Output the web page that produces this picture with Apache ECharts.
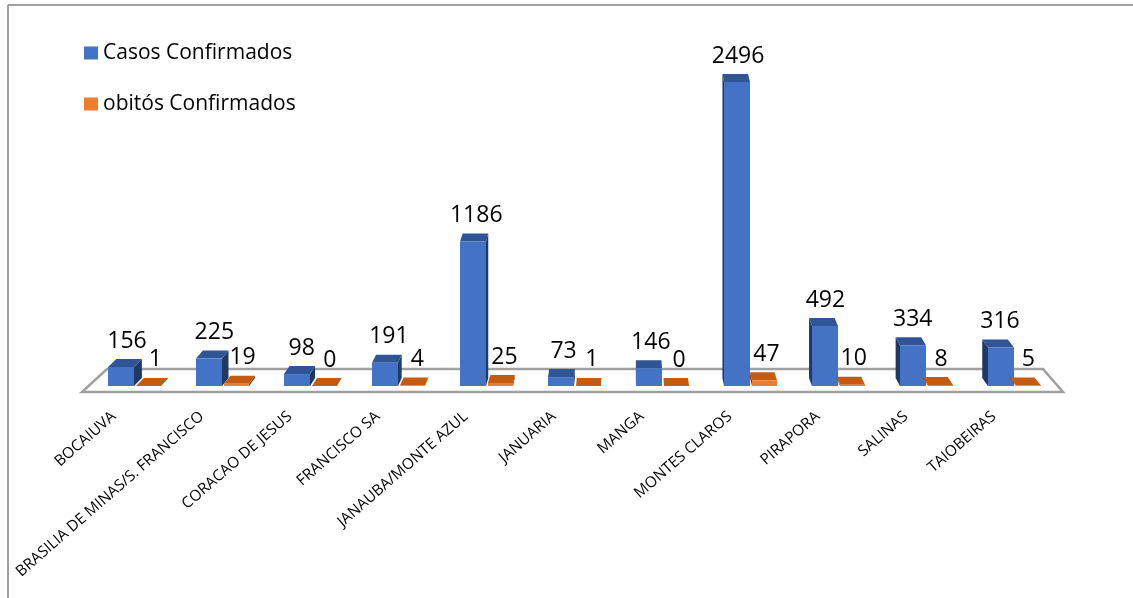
<!DOCTYPE html>
<html><head><meta charset="utf-8">
<script src="https://cdn.jsdelivr.net/npm/echarts@6/dist/echarts.min.js"></script>
<style>html,body{margin:0;padding:0;background:#fff}#c{width:1133px;height:598px}</style>
</head><body><div id="c"></div>
<script>
const categories = ['BOCAIUVA','BRASILIA DE MINAS/S. FRANCISCO','CORACAO DE JESUS','FRANCISCO SA','JANAUBA/MONTE AZUL','JANUARIA','MANGA','MONTES CLAROS','PIRAPORA','SALINAS','TAIOBEIRAS'];
const casos = [156,225,98,191,1186,73,146,2496,492,334,316];
const obitos = [1,19,0,4,25,1,0,47,10,8,5];
const seriesNames = ['Casos Confirmados','obitós Confirmados'];

const FONT = "'Open Sans', 'Noto Sans', sans-serif";
const VPX = 627, K = 0.016, DEPTH = 8;

function makeRender(off, w, col, lblShift) {
  return function (params, api) {
    const i = api.value(0), v = api.value(1);
    const b = api.coord([i, 0]), t = api.coord([i, v]);
    const x0 = b[0] + off, x1 = x0 + w, yb = b[1], yt = t[1];
    const d0 = (VPX - x0) * K, d1 = (VPX - x1) * K;
    const ch = [];
    if (d1 > 0) {
      ch.push({type:'polygon', shape:{points:[[x1,yt],[x1,yb],[x1+d1,yb-DEPTH],[x1+d1,yt-DEPTH]]}, style:{fill:col.side}});
    } else {
      ch.push({type:'polygon', shape:{points:[[x0,yt],[x0,yb],[x0+d0,yb-DEPTH],[x0+d0,yt-DEPTH]]}, style:{fill:col.side}});
    }
    ch.push({type:'polygon', shape:{points:[[x0,yt],[x1,yt],[x1+d1,yt-DEPTH],[x0+d0,yt-DEPTH]]}, style:{fill:col.top}});
    ch.push({type:'rect', shape:{x:x0, y:yt, width:w, height:Math.max(0, yb-yt)}, style:{fill:col.front}});
    ch.push({type:'text', style:{text:String(v), x:(x0+x1)/2 + (d0+d1)/4 + lblShift, y:yt-DEPTH-18, fill:'#000', fontSize:23, fontFamily:FONT, align:'center', verticalAlign:'middle'}});
    return {type:'group', children:ch};
  };
}

const chart = echarts.init(document.getElementById('c'));
chart.setOption({
  animation:false,
  backgroundColor:'#fff',
  grid:{left:91, right:74, top:20.6, bottom:212},
  legend:{
    orient:'vertical', left:79, top:36, itemGap:27, itemWidth:14, itemHeight:13, icon:'rect',
    data:seriesNames,
    textStyle:{fontSize:21, fontFamily:FONT, color:'#000', lineHeight:24}
  },
  xAxis:{type:'category', data:categories, axisLine:{show:false}, axisTick:{show:false},
    axisLabel:{interval:0, rotate:41, fontSize:15.3, fontFamily:FONT, color:'#000', margin:10, padding:[0,28,0,0]}},
  yAxis:{type:'value', min:0, max:3000, show:false},
  graphic:[
    {type:'line', shape:{x1:8,y1:5,x2:1133,y2:5}, style:{stroke:'#A0A0A0', lineWidth:2}, z:-10},
    {type:'line', shape:{x1:8,y1:5,x2:8,y2:598}, style:{stroke:'#A0A0A0', lineWidth:2}, z:-10},
    {type:'polygon', shape:{points:[[82,392],[1063,392],[1043,369],[107,369]]}, style:{fill:'#fff', stroke:'#A0A0A0', lineWidth:2.5}, z:-5}
  ],
  series:[
    {name:seriesNames[0], type:'custom', itemStyle:{color:'#4472C4'},
     renderItem:makeRender(-27, 26, {front:'#4472C4', top:'#2F5597', side:'#203864'}, 2),
     data:casos.map((v,i)=>[i,v])},
    {name:seriesNames[1], type:'custom', itemStyle:{color:'#ED7D31'},
     renderItem:makeRender(1, 25, {front:'#ED7D31', top:'#C55A11', side:'#843C0C'}, 3),
     data:obitos.map((v,i)=>[i,v])}
  ]
});
</script></body></html>
